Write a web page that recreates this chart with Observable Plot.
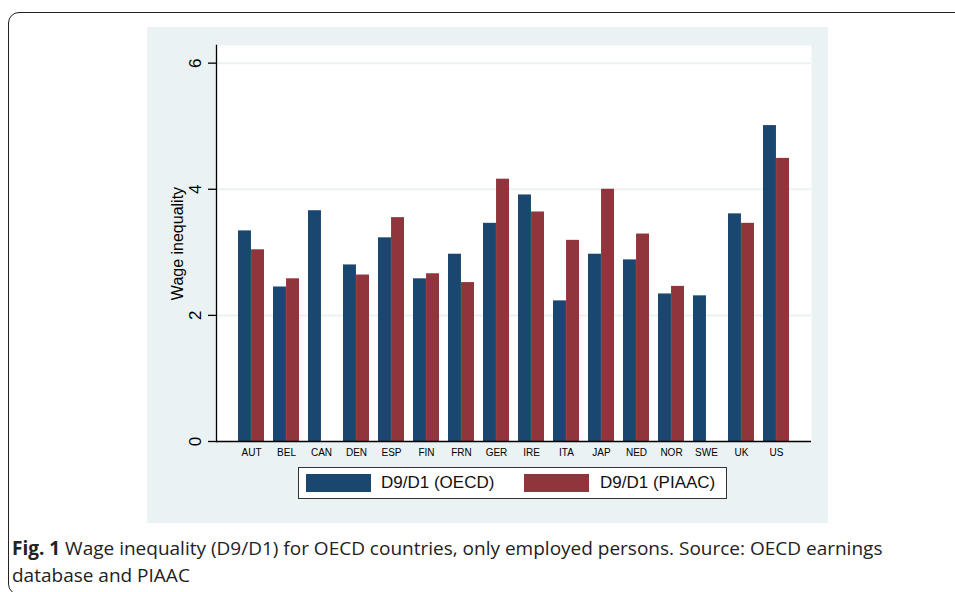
<!DOCTYPE html>
<html>
<head>
<meta charset="utf-8">
<script src="https://cdn.jsdelivr.net/npm/d3@7"></script>
<script src="https://cdn.jsdelivr.net/npm/@observablehq/plot@0.6"></script>
<style>
  html, body { margin: 0; padding: 0; width: 955px; height: 592px; overflow: hidden; background: #fff; }
  #border { position: absolute; left: 8px; top: 12px; width: 980px; height: 583px; border: 1.5px solid #222; border-radius: 11px; box-sizing: border-box; }
  #panel { position: absolute; left: 147px; top: 27px; width: 681px; height: 496px; background: #eaf2f3; }
  #panel svg { position: absolute; left: 0; top: 0; }
  #legend { position: absolute; left: 151px; top: 440px; width: 429px; height: 32px; box-sizing: border-box; border: 1px solid #333; background: #fff; font-family: "Liberation Sans", Arial, sans-serif; font-size: 17px; color: #111; }
  .sw { position: absolute; top: 6px; width: 65px; height: 18px; }
  .lt { position: absolute; top: 5px; line-height: 20px; white-space: nowrap; }
  #caption { position: absolute; left: 12px; top: 535px; font-family: "Open Sans", sans-serif; font-size: 19px; line-height: 27px; color: #222; white-space: nowrap; }
</style>
</head>
<body>
<div id="border"></div>
<div id="panel">
  <div id="legend">
    <div class="sw" style="left:7px;background:#1a476f"></div>
    <div class="lt" style="left:82px">D9/D1 (OECD)</div>
    <div class="sw" style="left:225px;background:#90353b"></div>
    <div class="lt" style="left:301px">D9/D1 (PIAAC)</div>
  </div>
</div>
<div id="caption"><b>Fig. 1</b> Wage inequality (D9/D1) for OECD countries, only employed persons. Source: OECD earnings<br>database and PIAAC</div>
<script>
const countries = ["AUT","BEL","CAN","DEN","ESP","FIN","FRN","GER","IRE","ITA","JAP","NED","NOR","SWE","UK","US"];
const oecd  = [3.34, 2.45, 3.66, 2.80, 3.23, 2.58, 2.97, 3.46, 3.91, 2.23, 2.97, 2.88, 2.34, 2.31, 3.61, 5.01];
const piaac = [3.04, 2.58, null, 2.64, 3.55, 2.66, 2.52, 4.16, 3.64, 3.19, 4.00, 3.29, 2.46, null, 3.46, 4.49];
const yTicks = [0, 2, 4, 6];
const seriesNames = ["D9/D1 (OECD)", "D9/D1 (PIAAC)"];
const colors = ["#1a476f", "#90353b"];

const oecdRows = countries.map((c, i) => ({country: c, value: oecd[i], series: seriesNames[0]}));
const piaacRows = countries.map((c, i) => ({country: c, value: piaac[i], series: seriesNames[1]})).filter(d => d.value != null);

const half = 13.05;

const chart = Plot.plot({
  width: 681,
  height: 496,
  marginLeft: 69,
  marginRight: 17,
  marginTop: 18,
  marginBottom: 82,
  style: { background: "#eaf2f3", fontFamily: "Liberation Sans, Arial, sans-serif", color: "#000", overflow: "visible" },
  x: { domain: countries, paddingInner: 0.26, paddingOuter: 0.555, label: null },
  y: { domain: [0, 6.28], label: null },
  marks: [
    Plot.frame({ fill: "white", stroke: "none" }),
    Plot.ruleY(yTicks.filter(d => d > 0), { stroke: "#eaf2f3", strokeWidth: 2 }),
    Plot.barY(oecdRows, { x: "country", y: "value", fill: colors[0], insetRight: half }),
    Plot.barY(piaacRows, { x: "country", y: "value", fill: colors[1], insetLeft: half }),
    Plot.ruleY([0], { stroke: "#000", strokeWidth: 1.3 }),
    Plot.frame({ anchor: "left", stroke: "#000", strokeWidth: 1.3 }),
    Plot.axisY({ ticks: yTicks, tickSize: 8, tickFormat: () => "", label: null, strokeWidth: 1.3 }),
    Plot.text(yTicks, { y: d => d, text: d => String(d), frameAnchor: "left", dx: -21, rotate: -90, textAnchor: "middle", fontSize: 17, fill: "#000" }),
    Plot.text(["Wage inequality"], { text: d => d, frameAnchor: "left", dx: -39, rotate: -90, textAnchor: "middle", fontSize: 16, fill: "#000" }),
    Plot.axisX({ tickSize: 0, tickPadding: 7, fontSize: 10, label: null, fill: "#000" })
  ]
});
const panel = document.getElementById("panel");
panel.insertBefore(chart, panel.firstChild);
</script>
</body>
</html>
